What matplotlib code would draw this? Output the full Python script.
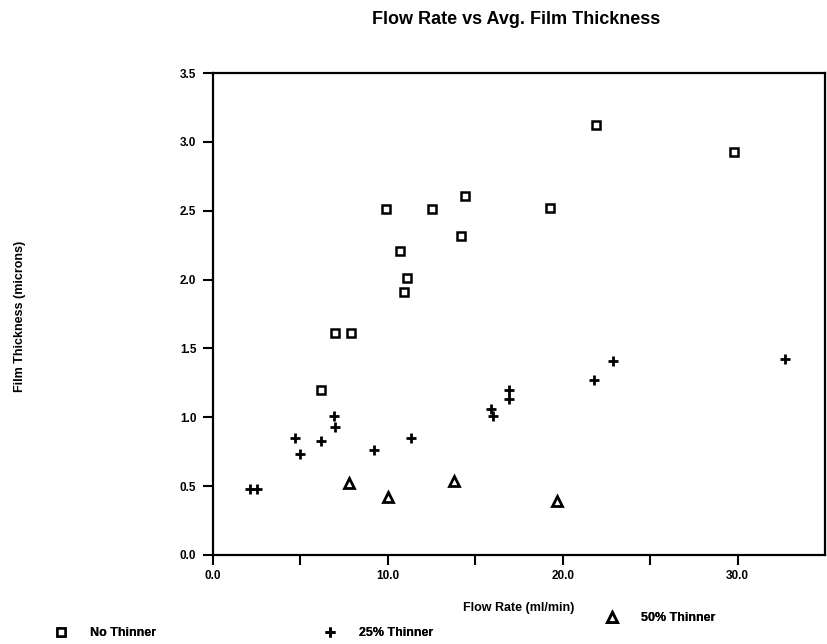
import matplotlib
matplotlib.use("Agg")
import matplotlib.pyplot as plt

plt.rcParams['font.family'] = ['Liberation Sans', 'DejaVu Sans']
plt.rcParams['font.weight'] = 'bold'

# Flow rate (ml/min) vs average film thickness (microns)
no_thin_x = [6.2, 7.0, 7.9, 9.9, 10.7, 11.1, 10.9, 12.5, 14.2, 14.4, 19.3, 21.9, 29.8]
no_thin_y = [1.20, 1.61, 1.61, 2.51, 2.21, 2.01, 1.91, 2.51, 2.32, 2.61, 2.52, 3.12, 2.93]

thin25_x = [2.1, 2.5, 4.7, 5.0, 6.2, 6.9, 7.0, 9.2, 11.3, 15.9, 16.0, 16.9, 16.9, 21.8, 22.9, 32.7]
thin25_y = [0.48, 0.48, 0.85, 0.73, 0.83, 1.01, 0.93, 0.76, 0.85, 1.06, 1.01, 1.20, 1.13, 1.27, 1.41, 1.42]

thin50_x = [7.8, 10.0, 13.8, 19.7]
thin50_y = [0.52, 0.42, 0.54, 0.39]

x_ticks = [0, 5, 10, 15, 20, 25, 30]
x_tick_labels = ['0.0', '', '10.0', '', '20.0', '', '30.0']
y_ticks = [0.0, 0.5, 1.0, 1.5, 2.0, 2.5, 3.0, 3.5]

fig = plt.figure(figsize=(8.27, 6.44), dpi=100)
ax = fig.add_axes([0.2576, 0.1382, 0.740, 0.7484])

sq_style = dict(linestyle='none', marker='s', markersize=6, markerfacecolor='white',
                markeredgecolor='black', markeredgewidth=1.8)
plus_style = dict(linestyle='none', marker='+', markersize=6.5, color='black',
                  markeredgewidth=2.0)
tri_style = dict(linestyle='none', marker='^', markersize=6.5, markerfacecolor='white',
                 markeredgecolor='black', markeredgewidth=2.0)

h1, = ax.plot(no_thin_x, no_thin_y, **sq_style)
h2, = ax.plot(thin25_x, thin25_y, **plus_style)
h3, = ax.plot(thin50_x, thin50_y, **tri_style)

ax.set_xlim(0, 35)
ax.set_ylim(0, 3.5)
ax.set_xticks(x_ticks)
ax.set_xticklabels(x_tick_labels)
ax.set_yticks(y_ticks)
ax.set_yticklabels([f'{v:.1f}' for v in y_ticks])
ax.tick_params(axis='both', direction='out', length=7, width=1.5, labelsize=8.5, pad=4)
ax.tick_params(axis='y', pad=5)
for lbl in ax.get_xticklabels() + ax.get_yticklabels():
    lbl.set_fontweight('bold')
for sp in ax.spines.values():
    sp.set_linewidth(1.6)

ax.set_xlabel('Flow Rate (ml/min)', fontsize=9, fontweight='bold', labelpad=14)
fig.text(0.024, 0.509, 'Film Thickness (microns)', rotation=90, fontsize=9,
         fontweight='bold', ha='center', va='center')
fig.text(0.624, 0.970, 'Flow Rate vs Avg. Film Thickness', fontsize=13,
         fontweight='bold', ha='center', va='center')

# legend row along the bottom
leg_items = [(h1, 'No Thinner', 0.0665, 0.017), (h2, '25% Thinner', 0.3915, 0.017),
             (h3, '50% Thinner', 0.733, 0.040)]
for h, lab, lx, ly in leg_items:
    leg = fig.legend([h], [lab], loc='center left', bbox_to_anchor=(lx, ly),
                     frameon=False, fontsize=9, handlelength=1.0, handletextpad=1.8,
                     borderpad=0, borderaxespad=0)
    fig.add_artist(leg)

fig.savefig('out.png', dpi=100)
